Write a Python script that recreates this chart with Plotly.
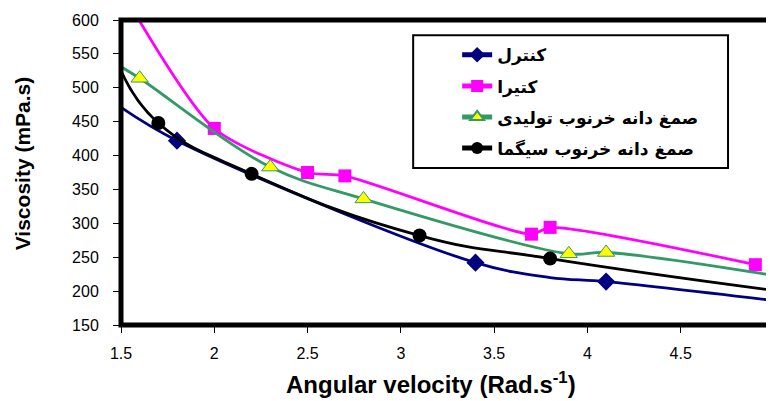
import plotly.graph_objects as go

# ---- data ----
control_x = [1.5, 1.8, 3.4, 3.8, 4.1, 5.0]
control_y = [471, 422, 242, 220, 214, 186]
control_marked = [False, True, True, False, True, False]

katira_x = [1.5, 2.0, 2.5, 2.7, 3.7, 3.8, 4.9]
katira_y = [645, 440, 375, 370, 284, 294, 239]
katira_marked = [False, True, True, True, True, True, True]

lbg_prod_x = [1.5, 1.6, 2.3, 2.8, 3.9, 4.1, 5.0]
lbg_prod_y = [531, 514, 383, 336, 255, 257, 223]
lbg_prod_marked = [False, True, True, True, True, True, False]

lbg_sigma_x = [1.5, 1.7, 2.2, 3.1, 3.8, 5.0]
lbg_sigma_y = [525, 448, 373, 282, 248, 201]
lbg_sigma_marked = [False, True, True, True, True, False]

names = ["کنترل", "کتیرا", "صمغ دانه خرنوب تولیدی", "صمغ دانه خرنوب سیگما"]

x_ticks = [1.5, 2, 2.5, 3, 3.5, 4, 4.5, 5]
x_tick_labels = ["1.5", "2", "2.5", "3", "3.5", "4", "4.5", "5"]
y_ticks = [150, 200, 250, 300, 350, 400, 450, 500, 550, 600]

x_title = "Angular velocity (Rad.s<sup>-1</sup>)"
y_title = "Viscosity (mPa.s)"

# ---- figure (page body has an 8px margin, so the canvas is 766x393) ----
OFF = 8
W, H = 766, 393
ML, MR, MT, MB = 112.7, 0, 11.7, 75.5
PW, PH = W - ML - MR, H - MT - MB


def px_to_paper_x(px):
    return (px - OFF - ML) / PW


def px_to_paper_y(py):
    return (H - MB - (py - OFF)) / PH


styles = [
    dict(color="#000080", symbol="diamond", size=14, mcolor="#000080", mline="#000080", mlw=0, smooth=1.0),
    dict(color="#FF00FF", symbol="square", size=13, mcolor="#FF00FF", mline="#FF00FF", mlw=0, smooth=0.7),
    dict(color="#339966", symbol="triangle-up", size=15, mcolor="#FFFF00", mline="#339966", mlw=1, smooth=1.0),
    dict(color="#000000", symbol="circle", size=14, mcolor="#000000", mline="#000000", mlw=0, smooth=1.3),
]
series = [
    (control_x, control_y, control_marked),
    (katira_x, katira_y, katira_marked),
    (lbg_prod_x, lbg_prod_y, lbg_prod_marked),
    (lbg_sigma_x, lbg_sigma_y, lbg_sigma_marked),
]

fig = go.Figure()
for i, ((xs, ys, marked), st, nm) in enumerate(zip(series, styles, names)):
    fig.add_trace(go.Scatter(
        x=xs, y=ys, name=nm, mode="lines+markers",
        legendgroup=f"g{i}",
        line=dict(color=st["color"], width=2.8, shape="spline", smoothing=st["smooth"]),
        marker=dict(symbol=st["symbol"], color=st["mcolor"], opacity=1,
                    size=[st["size"] if m else 0 for m in marked],
                    line=dict(color=st["mline"], width=[st["mlw"] if m else 0 for m in marked])),
    ))

fig.update_layout(
    width=W, height=H,
    margin=dict(l=ML, r=MR, t=MT, b=MB, autoexpand=False),
    template="none",
    paper_bgcolor="white", plot_bgcolor="white",
    font=dict(family="Liberation Sans, Arial, sans-serif", size=16, color="black"),
    showlegend=True,
    legend=dict(
        x=px_to_paper_x(457), y=px_to_paper_y(37), xanchor="left", yanchor="top",
        bgcolor="rgba(0,0,0,0)", borderwidth=0,
        itemsizing="constant", tracegroupgap=6,
        font=dict(family="DejaVu Sans, Liberation Sans, Arial", size=17, color="black", weight="bold"),
    ),
    xaxis=dict(
        range=[1.5, 5], tickvals=x_ticks, ticktext=x_tick_labels,
        showgrid=False, zeroline=False, showline=False,
        ticks="outside", ticklen=7, tickwidth=1, tickcolor="black",
        ticklabelstandoff=7, ticklabeloverflow="allow", automargin=False,
    ),
    yaxis=dict(
        range=[150, 600], tickvals=y_ticks,
        showgrid=False, zeroline=False, showline=False,
        ticks="outside", ticklen=7, tickwidth=1, tickcolor="black",
        ticklabelstandoff=11, ticklabeloverflow="allow", automargin=False,
    ),
    annotations=[
        dict(text=x_title, xref="paper", yref="paper", x=px_to_paper_x(431), y=px_to_paper_y(384),
             xanchor="center", yanchor="middle", showarrow=False,
             font=dict(size=24, family="Liberation Sans, Arial", weight="bold")),
        dict(text=y_title, xref="paper", yref="paper", x=px_to_paper_x(23), y=px_to_paper_y(163),
             xanchor="center", yanchor="middle", showarrow=False, textangle=-90,
             font=dict(size=21, family="Liberation Sans, Arial", weight="bold")),
    ],
)

# plot frame (thick black box centred on the plot edges)
fig.add_shape(type="rect", xref="paper", yref="paper", x0=0, x1=1, y0=0, y1=1,
              line=dict(color="black", width=5), fillcolor="rgba(0,0,0,0)", layer="above")

# legend frame
fig.add_shape(type="rect", xref="paper", yref="paper",
              x0=px_to_paper_x(413), x1=px_to_paper_x(728),
              y0=px_to_paper_y(168), y1=px_to_paper_y(35),
              line=dict(color="black", width=2), fillcolor="rgba(0,0,0,0)", layer="above")

fig.write_html("out.html")
